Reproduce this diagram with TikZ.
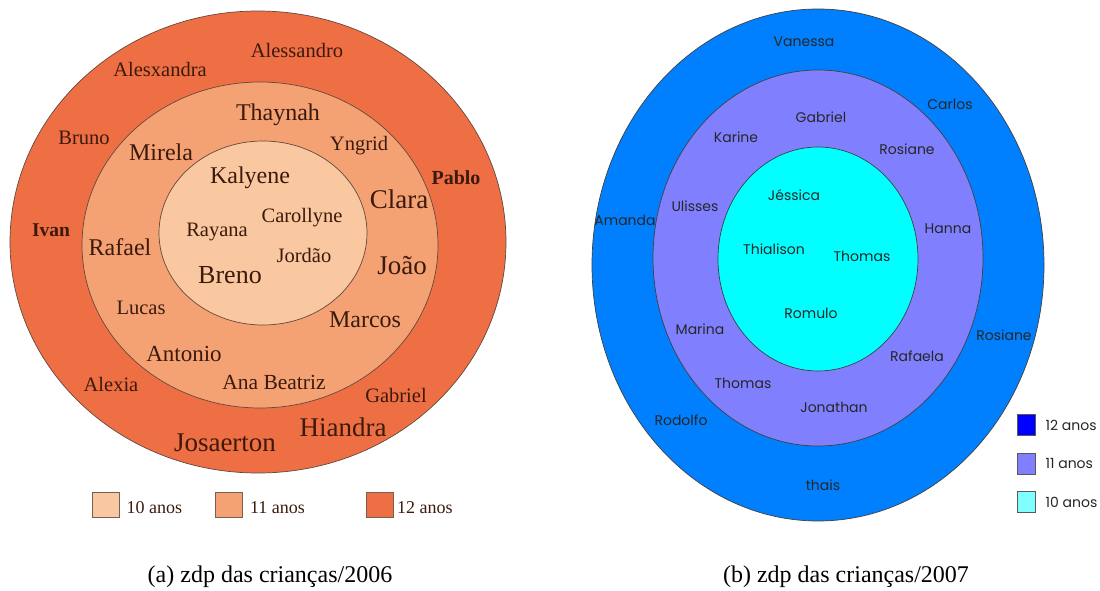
\documentclass[tikz,border=0pt]{standalone}
\usepackage{fontspec}
\setmainfont{Liberation Serif}
\newfontfamily\gotica{Poppins}
\usetikzlibrary{positioning}
\definecolor{laranja12}{HTML}{EF6F45}
\definecolor{laranja11}{HTML}{F4A274}
\definecolor{laranja10}{HTML}{F9C8A0}
\definecolor{marrom}{HTML}{3B1A0C}
\definecolor{azul12}{HTML}{0080FF}
\definecolor{azul11}{HTML}{8080FF}
\definecolor{azul10}{HTML}{00FFFF}
\definecolor{legazul12}{HTML}{0000FF}
\definecolor{legazul10}{HTML}{80FFFF}
\tikzstyle{anel06} = [draw=marrom!80, line width=0.7pt]
\tikzstyle{anel07} = [draw=black!75, line width=0.7pt]
\tikzstyle{nomeP} = [text=marrom, inner sep=0pt, font=\fontsize{20.5}{22}\selectfont]
\tikzstyle{nomeM} = [text=marrom, inner sep=0pt, font=\fontsize{24}{26}\selectfont]
\tikzstyle{nomeG} = [text=marrom, inner sep=0pt, font=\fontsize{27}{29}\selectfont]
\tikzstyle{nome07} = [text=black!85, inner sep=0pt, font=\gotica\fontsize{14}{16}\selectfont]
\tikzstyle{caixa06} = [draw=marrom!70, line width=0.8pt, minimum width=27pt, minimum height=25pt, inner sep=0pt]
\tikzstyle{caixa07} = [draw=black!65, line width=0.8pt, minimum width=18pt, minimum height=21pt, inner sep=0pt]
\tikzstyle{leg06} = [text=marrom, inner sep=0pt, font=\fontsize{18}{20}\selectfont]
\tikzstyle{leg07} = [text=black!85, inner sep=0pt, font=\gotica\fontsize{14}{16}\selectfont]
\tikzstyle{legenda} = [inner sep=0pt, font=\fontsize{24}{26}\selectfont]

\begin{document}
\begin{tikzpicture}[x=1pt,y=-1pt]
\useasboundingbox (0,0) rectangle (1100,591);

\draw[anel06, fill=laranja12] (258,242) ellipse [x radius=248, y radius=231];
\draw[anel06, fill=laranja11] (260,245) ellipse [x radius=178, y radius=163];
\draw[anel06, fill=laranja10] (263,233) ellipse [x radius=104, y radius=92];

\node[nomeP] (alessandro) at (297,50) {Alessandro};
\node[nomeP] (alesxandra) at (160,69) {Alesxandra};
\node[nomeP] (bruno) at (84,138) {Bruno};
\node[nomeP, font=\bfseries\fontsize{20}{22}\selectfont] (pablo) at (456,178) {Pablo};
\node[nomeP, font=\bfseries\fontsize{19.5}{22}\selectfont] (ivan) at (51,230) {Ivan};
\node[nomeP] (alexia) at (111,384) {Alexia};
\node[nomeP] (gabriel06) at (396,395) {Gabriel};
\node[nomeG] (hiandra) at (343,427) {Hiandra};
\node[nomeG] (josaerton) at (225,443) {Josaerton};

\node[nomeM] (thaynah) at (278,115) {Thaynah};
\node[nomeM] (mirela) at (161,152) {Mirela};
\node[nomeP] (yngrid) at (359,146) {Yngrid};
\node[nomeG] (clara) at (399,199) {Clara};
\node[nomeM] (rafael) at (120,247) {Rafael};
\node[nomeG] (joao) at (402,266) {João};
\node[nomeP] (lucas) at (141,308) {Lucas};
\node[nomeM] (marcos) at (365,320) {Marcos};
\node[nomeM, font=\fontsize{23}{25}\selectfont] (antonio) at (184,354) {Antonio};
\node[nomeP, font=\fontsize{21.5}{23}\selectfont] (anabeatriz) at (274,382) {Ana Beatriz};

\node[nomeM] (kalyene) at (250,178) {Kalyene};
\node[nomeP] (carollyne) at (302,218) {Carollyne};
\node[nomeP] (rayana) at (217,232) {Rayana};
\node[nomeP] (jordao) at (304,255) {Jordão};
\node[nomeG, font=\fontsize{26}{28}\selectfont] (breno) at (230,275) {Breno};

\node[caixa06, fill=laranja10] (caixa10) at (105.5,504.5) {};
\node[leg06, right=7pt of caixa10, yshift=-3pt] (ano10) {10 anos};
\node[caixa06, fill=laranja11] (caixa11) at (229,504.5) {};
\node[leg06, right=7pt of caixa11, yshift=-3pt] (ano11) {11 anos};
\node[caixa06, fill=laranja12] (caixa12) at (380,504.5) {};
\node[leg06, right=3pt of caixa12, yshift=-3pt] (ano12) {12 anos};

\draw[anel07, fill=azul12] (818,265) ellipse [x radius=226, y radius=256];
\draw[anel07, fill=azul11] (818,258) ellipse [x radius=165, y radius=188];
\draw[anel07, fill=azul10] (818,259) ellipse [x radius=100, y radius=112];

\node[nome07] (vanessa) at (804,42) {Vanessa};
\node[nome07] (carlos) at (950,104) {Carlos};
\node[nome07] (amanda) at (625,220) {Amanda};
\node[nome07] (rosiane12) at (1004,335) {Rosiane};
\node[nome07] (rodolfo) at (681,420) {Rodolfo};
\node[nome07] (thais) at (823,485) {thais};

\node[nome07] (gabriel07) at (821,117) {Gabriel};
\node[nome07] (karine) at (736,137) {Karine};
\node[nome07] (rosiane11) at (907,149) {Rosiane};
\node[nome07] (ulisses) at (695,206) {Ulisses};
\node[nome07] (hanna) at (948,229) {Hanna};
\node[nome07] (marina) at (700,329) {Marina};
\node[nome07] (rafaela) at (917,356) {Rafaela};
\node[nome07] (thomas11) at (743,383) {Thomas};
\node[nome07] (jonathan) at (834,407) {Jonathan};

\node[nome07] (jessica) at (794,195) {Jéssica};
\node[nome07] (thialison) at (774,249) {Thialison};
\node[nome07] (thomas10) at (862,256) {Thomas};
\node[nome07] (romulo) at (811,313) {Romulo};

\node[caixa07, fill=legazul12] (quad12) at (1026,425) {};
\node[leg07, right=10pt of quad12] (anos12) {12 anos};
\node[caixa07, fill=azul11] (quad11) at (1026,463.5) {};
\node[leg07, right=10pt of quad11] (anos11) {11 anos};
\node[caixa07, fill=legazul10] (quad10) at (1026,502) {};
\node[leg07, right=10pt of quad10] (anos10) {10 anos};

\node[legenda] (sub06) at (270,577) {(a) zdp das crianças/2006};
\node[legenda] (sub07) at (846,577) {(b) zdp das crianças/2007};
\end{tikzpicture}
\end{document}
